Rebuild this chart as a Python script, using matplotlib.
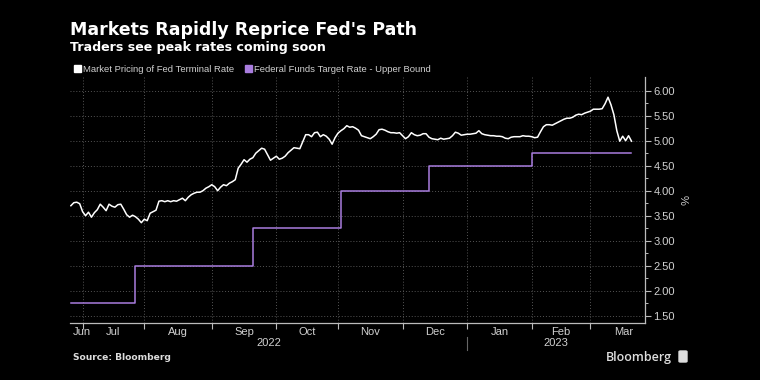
import numpy as np
import pandas as pd
import matplotlib
matplotlib.use("Agg")
import matplotlib.pyplot as plt
from matplotlib.transforms import blended_transform_factory
from matplotlib.patches import Rectangle, FancyBboxPatch

# ---------------- data ----------------
terminal_start = "2022-06-27"   # first weekday of the series
terminal_values = [
    3.70, 3.76, 3.77, 3.74,                                  # Jun 27-30
    3.58, 3.50, 3.57, 3.47, 3.56, 3.62, 3.73, 3.67, 3.60, 3.73, 3.69,
    3.67, 3.72, 3.73, 3.63, 3.52, 3.47, 3.51, 3.48, 3.43, 3.36,   # Jul
    3.43, 3.40, 3.55, 3.58, 3.61, 3.79, 3.80, 3.78, 3.80, 3.78, 3.80,
    3.79, 3.82, 3.85, 3.80, 3.87, 3.92, 3.95, 3.97, 3.97, 4.00, 4.05, 4.08,  # Aug
    4.12, 4.08, 4.00, 4.07, 4.12, 4.10, 4.15, 4.18, 4.22, 4.45, 4.53,
    4.62, 4.57, 4.63, 4.66, 4.75, 4.80, 4.85, 4.83, 4.72, 4.61, 4.65,    # Sep
    4.69, 4.63, 4.65, 4.69, 4.76, 4.81, 4.86, 4.85, 4.84, 4.98, 5.12,
    5.12, 5.08, 5.16, 5.17, 5.08, 5.12, 5.09, 5.03, 4.93, 5.06,          # Oct
    5.15, 5.20, 5.24, 5.30, 5.27, 5.28, 5.25, 5.21, 5.10, 5.08, 5.06,
    5.04, 5.08, 5.13, 5.22, 5.23, 5.21, 5.18, 5.16, 5.16, 5.15, 5.16,    # Nov
    5.10, 5.04, 5.08, 5.16, 5.12, 5.10, 5.11, 5.14, 5.14, 5.07, 5.04,
    5.03, 5.02, 5.05, 5.03, 5.04, 5.05, 5.10, 5.17, 5.15, 5.11, 5.12,    # Dec
    5.13, 5.13, 5.14, 5.15, 5.20, 5.14, 5.12, 5.11, 5.10, 5.10, 5.09,
    5.09, 5.08, 5.05, 5.04, 5.07, 5.08, 5.08, 5.08, 5.10, 5.09, 5.09,    # Jan
    5.08, 5.06, 5.07, 5.18, 5.28, 5.32, 5.32, 5.31, 5.34, 5.37, 5.40,
    5.43, 5.45, 5.45, 5.47, 5.51, 5.53, 5.52, 5.55, 5.57,                # Feb
    5.59, 5.63, 5.63, 5.63, 5.64, 5.74, 5.87, 5.72, 5.52, 5.20, 4.99,
    5.09, 5.00, 5.10, 4.99,                                              # Mar
]

fed_dates = ["2022-06-27", "2022-07-27", "2022-09-21", "2022-11-02",
             "2022-12-14", "2023-02-01", "2023-03-21"]
fed_values = [1.75, 2.50, 3.25, 4.00, 4.50, 4.75, 4.75]

month_labels = ["Jun", "Jul", "Aug", "Sep", "Oct", "Nov", "Dec", "Jan", "Feb", "Mar"]
month_starts = ["2022-06-01", "2022-07-01", "2022-08-01", "2022-09-01", "2022-10-01",
                "2022-11-01", "2022-12-01", "2023-01-01", "2023-02-01", "2023-03-01",
                "2023-04-01"]
year_labels = ["2022", "2023"]
year_bounds = ["2022-06-01", "2023-01-01", "2023-12-31"]

yticks = [1.5, 2.0, 2.5, 3.0, 3.5, 4.0, 4.5, 5.0, 5.5, 6.0]

title = "Markets Rapidly Reprice Fed's Path"
subtitle = "Traders see peak rates coming soon"
legend_labels = ["Market Pricing of Fed Terminal Rate",
                 "Federal Funds Target Rate - Upper Bound"]

# ---------------- helpers ----------------
REF = np.datetime64("2022-07-01")


def bpos(d):
    d = np.asarray(d, dtype="datetime64[D]")
    return np.busday_count(REF, d).astype(float)


terminal_dates = pd.bdate_range(terminal_start, periods=len(terminal_values))
tx = bpos(terminal_dates.values.astype("datetime64[D]"))
fx = bpos(fed_dates)

WHITE = "#ffffff"
PURPLE = "#a97ddf"
GRID = "#555555"
TXT = "#d0d0d0"
FONT = ["Liberation Sans", "DejaVu Sans"]
TFONT = ["DejaVu Sans"]
plt.rcParams["font.family"] = FONT

W, H = 760, 380
fig = plt.figure(figsize=(W / 100, H / 100), dpi=100, facecolor="black")
L, R, T, B = 70, 645, 77, 323.3
ax = fig.add_axes([L / W, 1 - B / H, (R - L) / W, (B - T) / H])
ax.set_facecolor("black")

xmin, xmax = -4.3, 191.6
ax.set_xlim(xmin, xmax)
ax.set_ylim(1.5 - (B - 315.7) / 50, 6.0 + (90.7 - T) / 50)

ax.plot(fx, fed_values, color=PURPLE, lw=1.1, drawstyle="steps-post", zorder=3)
ax.plot(tx, terminal_values, color=WHITE, lw=1.1, zorder=4)

# spines
for s in ["top", "left"]:
    ax.spines[s].set_visible(False)
for s in ["right", "bottom"]:
    ax.spines[s].set_color("#bbbbbb")
    ax.spines[s].set_linewidth(0.9)

# y axis
ax.yaxis.tick_right()
ax.set_yticks(yticks)
ax.set_yticklabels([f"{v:.2f}" for v in yticks])
ax.set_yticks(np.arange(1.75, 6.1, 0.5), minor=True)
ax.tick_params(axis="y", which="major", colors="#bbbbbb", labelcolor=TXT,
               length=4, width=0.8, labelsize=8, pad=2)
ax.tick_params(axis="y", which="minor", colors="#bbbbbb", length=2.5, width=0.7)

# x axis: ticks at month starts, labels at month centres
ms = bpos(month_starts)
ax.set_xticks(ms[1:-1])
ax.set_xticklabels([])
ax.tick_params(axis="x", which="major", colors="#bbbbbb", length=4, width=0.8)

ax.grid(True, axis="both", which="major", color=GRID, linestyle=(0, (1, 2)), lw=0.7)

trans = blended_transform_factory(ax.transData, ax.transAxes)
ax_h = B - T
for i, lab in enumerate(month_labels):
    c = (ms[i] + ms[i + 1]) / 2
    c = min(max(c, xmin + 4), xmax - 4)
    ax.text(c, -(331.7 - B) / ax_h, lab, transform=trans, ha="center", va="center",
            color=TXT, fontsize=8, clip_on=False)

yb = bpos(year_bounds)
for i, lab in enumerate(year_labels):
    lo, hi = max(yb[i], xmin), min(yb[i + 1], xmax)
    ax.text((lo + hi) / 2, -(343 - B) / ax_h, lab, transform=trans, ha="center",
            va="center", color=TXT, fontsize=8, clip_on=False)
sep = yb[1]
ax.plot([sep, sep], [-(337 - B) / ax_h, -(350 - B) / ax_h], transform=trans,
        color="#666666", lw=0.8, clip_on=False)

# percent label
fig.text(683 / W, 1 - 200 / H, "%", rotation=270, color=TXT, fontsize=8,
         ha="center", va="center")

# titles
fig.text(70 / W, 1 - 35 / H, title, color="white", fontsize=12.5,
         fontweight="bold", ha="left", va="baseline", family=TFONT)
fig.text(70 / W, 1 - 50.7 / H, subtitle, color="white", fontsize=9.1,
         fontweight="bold", ha="left", va="baseline", family=TFONT)

# legend
leg_x = [74, 245]
for lx, lab, col in zip(leg_x, legend_labels, ["white", PURPLE]):
    fig.patches.append(Rectangle((lx / W, 1 - 71.5 / H), 6.5 / W, 6.5 / H,
                                 transform=fig.transFigure, color=col))
    fig.text((lx + 9) / W, 1 - 71.5 / H, lab, color=TXT, fontsize=6.8,
             ha="left", va="baseline")

# footer
fig.text(73 / W, 1 - 360.5 / H, "Source: Bloomberg", color="#dddddd", fontsize=6.6,
         fontweight="bold", ha="left", va="baseline", family=TFONT)
fig.text(672 / W, 1 - 361 / H, "Bloomberg", color="#dddddd", fontsize=9,
         fontweight="semibold", ha="right", va="baseline",
         family=["Open Sans", "DejaVu Sans"])
fig.patches.append(FancyBboxPatch((679 / W, 1 - 362 / H), 8 / W, 11 / H,
                                  boxstyle="round,pad=0,rounding_size=0.002",
                                  transform=fig.transFigure, color="#dddddd"))

fig.savefig("out.png", dpi=100, facecolor="black")
